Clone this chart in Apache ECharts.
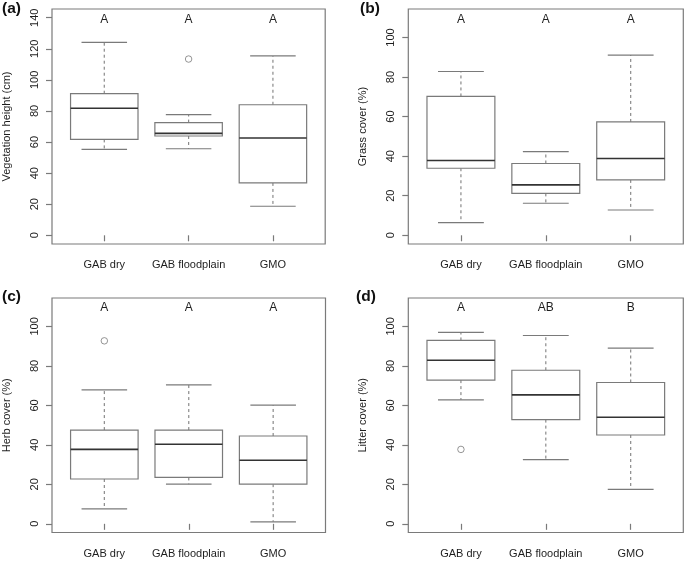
<!DOCTYPE html>
<html>
<head>
<meta charset="utf-8">
<script src="https://cdn.jsdelivr.net/npm/echarts@6/dist/echarts.min.js"></script>
<style>html,body{margin:0;padding:0;background:#fff}#c{width:685px;height:561px}</style>
</head>
<body>
<div id="c"></div>
<script>
// ---- data ----
const categories = ['GAB dry', 'GAB floodplain', 'GMO'];
// [lower whisker, Q1, median, Q3, upper whisker]
const heightStats = [[55.3, 61.7, 81.7, 91.1, 124.1], [55.7, 63.9, 65.6, 72.5, 77.6], [18.7, 33.7, 62.6, 84.0, 115.4]];
const heightOutliers = [[2, 113.4]];
const grassStats = [[6.4, 33.9, 37.8, 70.2, 82.8], [16.2, 21.2, 25.5, 36.3, 42.3], [12.8, 28.0, 38.8, 57.3, 91.1]];
const grassOutliers = [];
const herbStats = [[7.6, 22.7, 37.7, 47.5, 67.9], [20.1, 23.5, 40.3, 47.5, 70.4], [1.0, 20.1, 32.2, 44.5, 60.1]];
const herbOutliers = [[1, 92.7]];
const litterStats = [[62.8, 72.8, 82.9, 92.9, 97.0], [32.5, 52.8, 65.3, 77.8, 95.4], [17.4, 45.0, 54.0, 71.6, 89.0]];
const litterOutliers = [[1, 37.7]];
const heightLetters = ['A', 'A', 'A'];
const grassLetters = ['A', 'A', 'A'];
const herbLetters = ['A', 'A', 'A'];
const litterLetters = ['A', 'AB', 'B'];
const heightTicks = [0, 20, 40, 60, 80, 100, 120, 140];
const coverTicks = [0, 20, 40, 60, 80, 100];
const yTitles = ['Vegetation height (cm)', 'Grass cover (%)', 'Herb cover (%)', 'Litter cover (%)'];
const panelLabels = ['(a)', '(b)', '(c)', '(d)'];

// ---- layout ----
const FONT = 'Liberation Sans, Arial, Helvetica, sans-serif';
const TXT = '#1e1e1e';
const LINE = '#7a7a7a';
const panels = [
  {stats: heightStats, out: heightOutliers, letters: heightLetters, ticks: heightTicks, ymin: -5.6, ymax: 145.6, ltop: 140,
   grid: {left: 51.7, top: 9, width: 273.5, height: 235}, lab: [2, 1], lm: 15},
  {stats: grassStats, out: grassOutliers, letters: grassLetters, ticks: coverTicks, ymin: -4.4, ymax: 114.4, ltop: 110,
   grid: {left: 408.3, top: 9, width: 275, height: 235}, lab: [360, 1], lm: 15},
  {stats: herbStats, out: herbOutliers, letters: herbLetters, ticks: coverTicks, ymin: -4.4, ymax: 114.4, ltop: 110,
   grid: {left: 51.5, top: 298, width: 274, height: 234.5}, lab: [2, 289], lm: 16},
  {stats: litterStats, out: litterOutliers, letters: litterLetters, ticks: coverTicks, ymin: -4.4, ymax: 114.4, ltop: 110,
   grid: {left: 408.3, top: 298, width: 275, height: 234.5}, lab: [356, 289], lm: 16}
];

function renderBox(params, api) {
  const x = api.value(0);
  const lo = api.value(1), q1 = api.value(2), med = api.value(3), q3 = api.value(4), hi = api.value(5);
  const hw = 0.4, cw = 0.27;
  const tl = api.coord([x - hw, q3]);
  const br = api.coord([x + hw, q1]);
  const mL = api.coord([x - hw, med]), mR = api.coord([x + hw, med]);
  const cTop = api.coord([x, hi]), cQ3 = api.coord([x, q3]);
  const cBot = api.coord([x, lo]), cQ1 = api.coord([x, q1]);
  const capHiL = api.coord([x - cw, hi]), capHiR = api.coord([x + cw, hi]);
  const capLoL = api.coord([x - cw, lo]), capLoR = api.coord([x + cw, lo]);
  const solid = {stroke: LINE, lineWidth: 1.2, fill: null};
  const dashed = {stroke: '#8a8a8a', lineWidth: 1.2, lineDash: [3, 3], fill: null};
  return {
    type: 'group',
    children: [
      {type: 'line', shape: {x1: cQ3[0], y1: cQ3[1], x2: cTop[0], y2: cTop[1]}, style: dashed},
      {type: 'line', shape: {x1: cQ1[0], y1: cQ1[1], x2: cBot[0], y2: cBot[1]}, style: dashed},
      {type: 'line', shape: {x1: capHiL[0], y1: capHiL[1], x2: capHiR[0], y2: capHiR[1]}, style: solid},
      {type: 'line', shape: {x1: capLoL[0], y1: capLoL[1], x2: capLoR[0], y2: capLoR[1]}, style: solid},
      {type: 'rect', shape: {x: tl[0], y: tl[1], width: br[0] - tl[0], height: br[1] - tl[1]}, style: {stroke: LINE, lineWidth: 1.2, fill: '#fff'}},
      {type: 'line', shape: {x1: mL[0], y1: mL[1], x2: mR[0], y2: mR[1]}, style: {stroke: '#333', lineWidth: 1.6}}
    ]
  };
}

function renderLetter(params, api) {
  const p = api.coord([api.value(0), api.value(1)]);
  return {
    type: 'text', x: p[0], y: p[1] + 1.5,
    style: {text: api.value(2), fill: TXT, fontSize: 12, fontFamily: FONT, align: 'center', verticalAlign: 'middle'}
  };
}

const grids = [], xAxes = [], yAxes = [], series = [], graphics = [];
panels.forEach((p, i) => {
  grids.push(Object.assign({show: true, borderColor: LINE, borderWidth: 1.2, backgroundColor: 'transparent', containLabel: false}, p.grid));
  xAxes.push({
    type: 'value', gridIndex: i, min: 0.38, max: 3.62,
    axisLine: {show: false}, splitLine: {show: false},
    axisTick: {show: true, length: 6, customValues: [1, 2, 3], lineStyle: {color: LINE, width: 1.2}},
    axisLabel: {show: true, customValues: [1, 2, 3], margin: p.lm, color: TXT, fontSize: 11, fontFamily: FONT,
      formatter: v => categories[Math.round(v) - 1] || ''}
  });
  yAxes.push({
    type: 'value', gridIndex: i, min: p.ymin, max: p.ymax,
    name: yTitles[i], nameLocation: 'middle', nameGap: 40, nameRotate: 90,
    nameTextStyle: {color: TXT, fontSize: 11, fontFamily: FONT},
    axisLine: {show: false}, splitLine: {show: false},
    axisTick: {show: true, length: 6, customValues: p.ticks, lineStyle: {color: LINE, width: 1.2}},
    axisLabel: {show: true, customValues: p.ticks, rotate: 90, margin: 12, color: TXT, fontSize: 11, fontFamily: FONT}
  });
  series.push({
    type: 'custom', xAxisIndex: i, yAxisIndex: i, renderItem: renderBox, clip: false,
    data: p.stats.map((s, k) => [k + 1].concat(s))
  });
  series.push({
    type: 'scatter', xAxisIndex: i, yAxisIndex: i, symbol: 'circle', symbolSize: 6.5,
    itemStyle: {color: '#fff', borderColor: LINE, borderWidth: 1},
    data: p.out
  });
  series.push({
    type: 'custom', xAxisIndex: i, yAxisIndex: i, renderItem: renderLetter,
    data: p.letters.map((t, k) => [k + 1, p.ltop, t])
  });
  graphics.push({
    type: 'text', left: p.lab[0], top: p.lab[1],
    style: {text: panelLabels[i], fill: '#111', font: 'bold 15.5px ' + FONT}
  });
});

const chart = echarts.init(document.getElementById('c'), null, {renderer: 'canvas'});
chart.setOption({
  animation: false,
  backgroundColor: '#fff',
  grid: grids, xAxis: xAxes, yAxis: yAxes, series: series, graphic: graphics
});
</script>
</body>
</html>
